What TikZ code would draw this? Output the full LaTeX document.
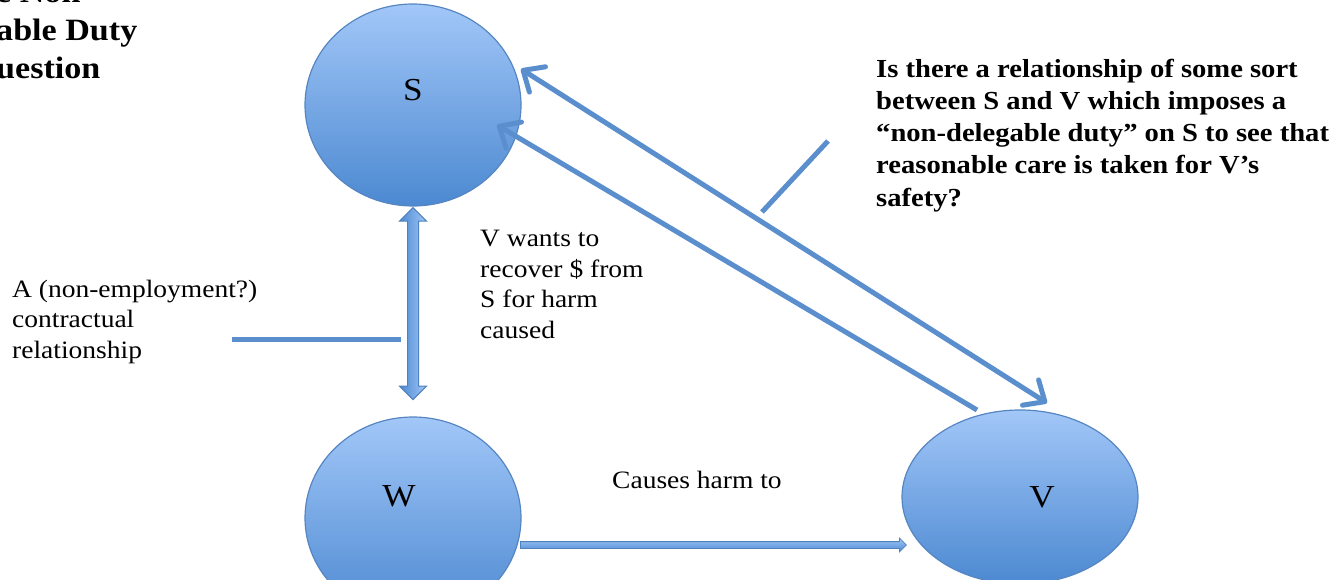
\documentclass[tikz,border=0pt]{standalone}
\usepackage{fontspec}
\setmainfont[FakeStretch=1.1]{Liberation Serif}
\usepackage{tikz}
\usetikzlibrary{positioning, shapes.geometric, shapes.arrows, arrows.meta, calc}

\definecolor{blobtop}{RGB}{162,199,248}
\definecolor{blobbot}{RGB}{76,137,209}
\definecolor{blobline}{RGB}{86,134,194}
\definecolor{linkblue}{RGB}{90,142,204}
\definecolor{barline}{RGB}{79,129,189}

\tikzset{chev/.tip={Straight Barb[length=17pt, width=30pt, round]}}

\begin{document}
\begin{tikzpicture}
	[x=1pt, y=-1pt, on grid, node distance=100pt,
	 party/.style={ellipse, draw=blobline, line width=1.2pt, top color=blobtop, bottom color=blobbot,
	   minimum width=216pt, minimum height=202pt, inner sep=0pt},
	 tag/.style={font=\fontsize{32}{38}\selectfont},
	 note/.style={align=left, inner sep=0pt, anchor=base west, font=\fontsize{25}{30.5}\selectfont},
	 link/.style={draw=linkblue, line width=5pt},
	 relbar/.style={draw=barline, line width=1pt, inner xsep=0pt}]
   \useasboundingbox (0,0) rectangle (1340,580);

   % the three parties
   \node[party, label={[tag, yshift=15pt]center:S}] (S) at (413,105) {};
   \node[party, label={[tag, xshift=-14pt, yshift=22pt]center:W}] (W) [below=413pt of S] {};
   \node[party, minimum width=236pt, minimum height=174pt,
         label={[tag, xshift=22pt]center:V}] (V) [right=607pt of W, yshift=21pt] {};

   % arrows between them
   \node[relbar, double arrow, rotate=90, minimum height=192pt, inner ysep=5pt,
         double arrow head extend=8pt, left color=blobbot, right color=blobtop] (rel)
         at ($(S.south)+(0,97)$) {};
   \node[relbar, single arrow, anchor=tail, minimum height=386pt, inner ysep=3pt,
         single arrow head extend=3.5pt, line width=0.8pt, top color=blobtop, bottom color=blobbot] (harm)
         at ([shift={(107,27)}]W.center) {};

   \path[link]
   ([shift={(108,-36)}]S.center)
          edge [chev-chev] ([shift={(27,-94)}]V.center)
   ([shift={(-43,-87)}]V.center)
          edge [-chev] ([shift={(84,20)}]S.center);

   % texts (base is the last line)
   \node[note, font=\bfseries\fontsize{31}{38}\selectfont] (title) at (-4,79) {e Non\\able Duty\\uestion};
   \node[note] (contract) at (12,358) {A (non-employment?)\\contractual\\relationship};
   \node[note] (recover) at (480,338) {V wants to\\recover \$ from\\S for harm\\caused};
   \node[note] (causes) at (612,488) {Causes harm to};
   \node[note, font=\bfseries\fontsize{26}{32}\selectfont] (duty) at (876,206)
        {Is there a relationship of some sort\\between S and V which imposes a\\“non-delegable duty” on S to see that\\reasonable care is taken for V’s\\safety?};

   % pointer lines
   \coordinate (contractend) at (232,339);
   \coordinate (dutyend) at (828,141);
   \draw[link] (contractend) -- ([xshift=-6pt]contractend -| rel.north);
   \draw[link] (dutyend) -- ++(-66,71);

\end{tikzpicture}
\end{document}
